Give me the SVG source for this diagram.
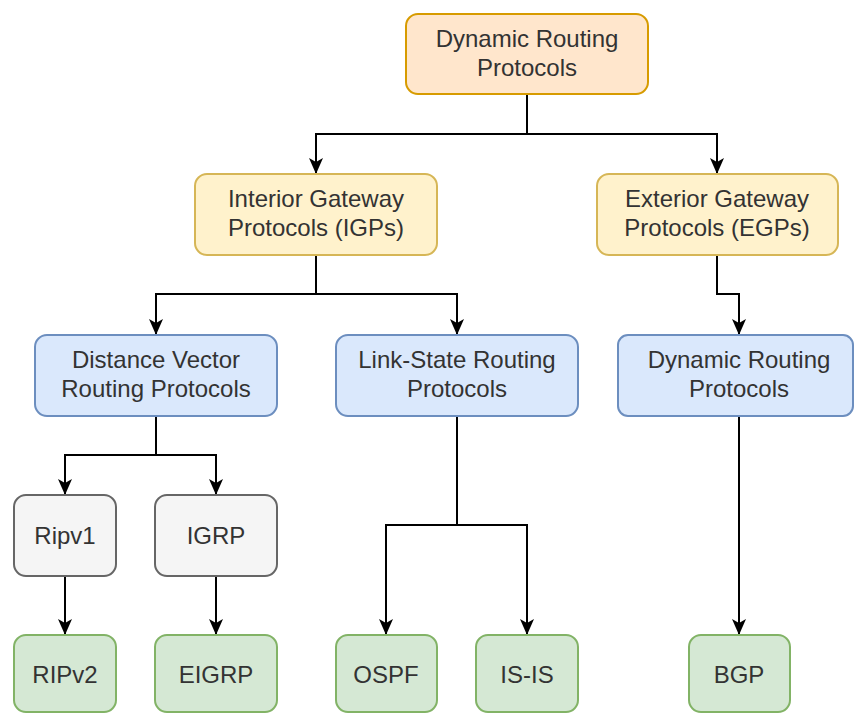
<svg xmlns="http://www.w3.org/2000/svg" width="854" height="713" viewBox="0 0 854 713">
<defs>
<style>
.n{stroke-width:2}
.orange{fill:#ffe6cc;stroke:#d79b00}
.yellow{fill:#fff2cc;stroke:#d6b656}
.blue{fill:#dae8fc;stroke:#6c8ebf}
.gray{fill:#f5f5f5;stroke:#666666}
.green{fill:#d5e8d4;stroke:#82b366}
text{font-family:"Liberation Sans",Arial,sans-serif;font-size:24px;fill:#333333;text-anchor:middle}
.c{fill:none;stroke:#000000;stroke-width:2}
</style>
<marker id="arr" markerUnits="userSpaceOnUse" markerWidth="16" markerHeight="14" refX="16" refY="7" orient="auto" viewBox="0 0 16 14">
<path d="M0,0 L16,7 L0,14 L4,7 Z" fill="#000000"/>
</marker>
</defs>
<rect width="854" height="713" fill="#ffffff"/>
<g id="connectors">
<path class="c" d="M527,94 V134 H316 V174" marker-end="url(#arr)"/>
<path class="c" d="M527,134 H717 V174" marker-end="url(#arr)"/>
<path class="c" d="M316,255 V294 H156 V335" marker-end="url(#arr)"/>
<path class="c" d="M316,294 H457 V335" marker-end="url(#arr)"/>
<path class="c" d="M717,255 V294 H739 V335" marker-end="url(#arr)"/>
<path class="c" d="M156,416 V455 H65 V495" marker-end="url(#arr)"/>
<path class="c" d="M156,455 H216 V495" marker-end="url(#arr)"/>
<path class="c" d="M457,416 V525 H386 V635" marker-end="url(#arr)"/>
<path class="c" d="M457,525 H527 V635" marker-end="url(#arr)"/>
<path class="c" d="M65,576 V635" marker-end="url(#arr)"/>
<path class="c" d="M216,576 V635" marker-end="url(#arr)"/>
<path class="c" d="M739,416 V635" marker-end="url(#arr)"/>
</g>
<g id="dynamic-routing-protocols">
<rect class="n orange" x="406" y="14" width="242" height="80" rx="12"/>
<text x="527" y="47">Dynamic Routing</text>
<text x="527" y="76">Protocols</text>
</g>
<g id="igp">
<rect class="n yellow" x="195" y="174" width="242" height="81" rx="12"/>
<text x="316" y="207">Interior Gateway</text>
<text x="316" y="236">Protocols (IGPs)</text>
</g>
<g id="egp">
<rect class="n yellow" x="597" y="174" width="241" height="81" rx="12"/>
<text x="717" y="207">Exterior Gateway</text>
<text x="717" y="236">Protocols (EGPs)</text>
</g>
<g id="distance-vector">
<rect class="n blue" x="35" y="335" width="242" height="81" rx="12"/>
<text x="156" y="368">Distance Vector</text>
<text x="156" y="397">Routing Protocols</text>
</g>
<g id="link-state">
<rect class="n blue" x="336" y="335" width="242" height="81" rx="12"/>
<text x="457" y="368">Link-State Routing</text>
<text x="457" y="397">Protocols</text>
</g>
<g id="dynamic-routing-protocols-2">
<rect class="n blue" x="618" y="335" width="235" height="81" rx="10"/>
<text x="739" y="368">Dynamic Routing</text>
<text x="739" y="397">Protocols</text>
</g>
<g id="ripv1">
<rect class="n gray" x="14" y="495" width="102" height="81" rx="12"/>
<text x="65" y="544">Ripv1</text>
</g>
<g id="igrp">
<rect class="n gray" x="155" y="495" width="122" height="81" rx="12"/>
<text x="216" y="544">IGRP</text>
</g>
<g id="ripv2">
<rect class="n green" x="14" y="635" width="102" height="77" rx="12"/>
<text x="65" y="683">RIPv2</text>
</g>
<g id="eigrp">
<rect class="n green" x="155" y="635" width="122" height="77" rx="12"/>
<text x="216" y="683">EIGRP</text>
</g>
<g id="ospf">
<rect class="n green" x="336" y="635" width="101" height="77" rx="12"/>
<text x="386" y="683">OSPF</text>
</g>
<g id="is-is">
<rect class="n green" x="476" y="635" width="102" height="77" rx="12"/>
<text x="527" y="683">IS-IS</text>
</g>
<g id="bgp">
<rect class="n green" x="689" y="635" width="101" height="77" rx="12"/>
<text x="739" y="683">BGP</text>
</g>
</svg>
